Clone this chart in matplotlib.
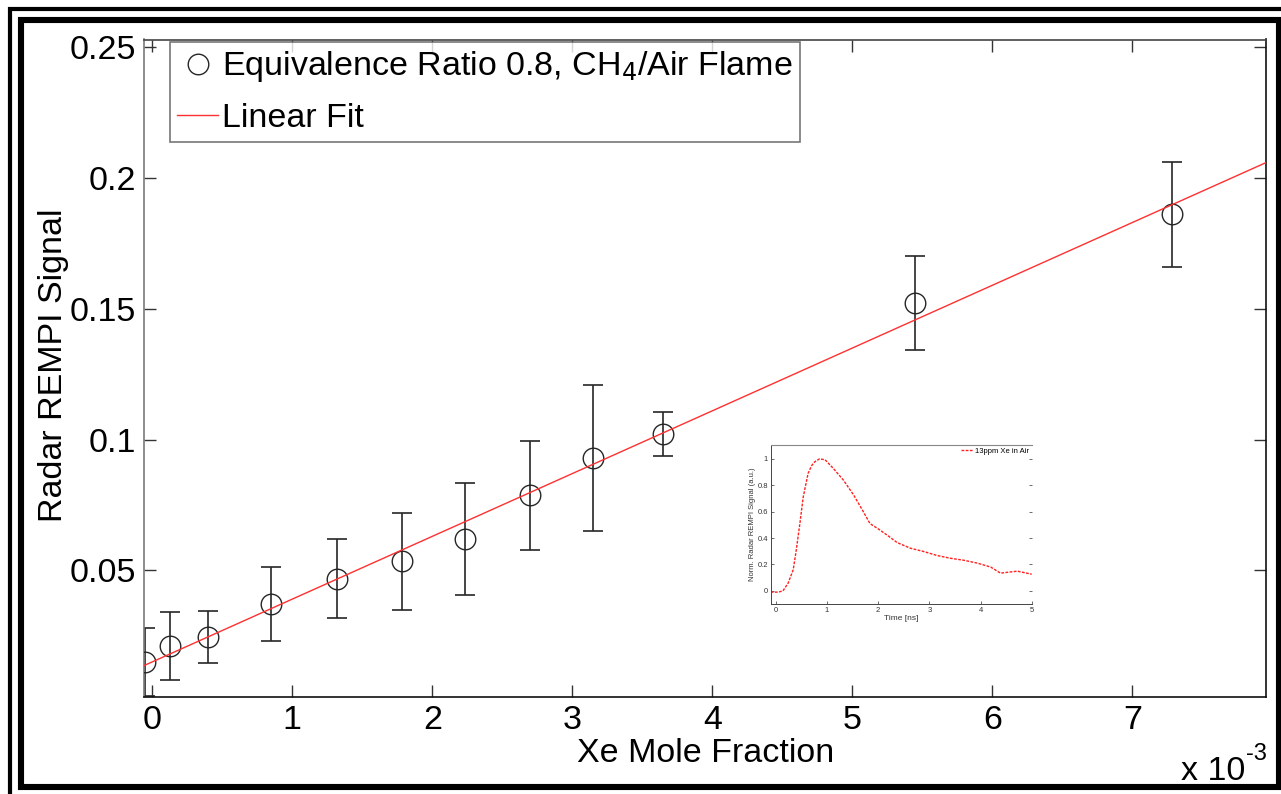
import numpy as np
import matplotlib
matplotlib.use("Agg")
import matplotlib.pyplot as plt
from matplotlib.patches import Rectangle
from matplotlib.ticker import FuncFormatter

plt.rcParams["font.family"] = ["Liberation Sans", "DejaVu Sans"]

# Xe mole fraction and REMPI signal with uncertainty
xe_fraction = np.array([-0.05, 0.126, 0.40, 0.846, 1.317, 1.781, 2.234,
                        2.698, 3.15, 3.65, 5.448, 7.281]) * 1e-3
rempi_signal = [0.0149, 0.0212, 0.0245, 0.0372, 0.0469, 0.0536, 0.0622,
                0.0787, 0.0929, 0.1021, 0.1523, 0.1861]
rempi_error = [0.0130, 0.0129, 0.0100, 0.0141, 0.0150, 0.0185, 0.0214,
               0.0208, 0.0280, 0.0083, 0.0179, 0.0200]

# linear fit: signal = slope * fraction + intercept
fit_slope = 23.97
fit_intercept = 0.0151

x_ticks = [0, 1, 2, 3, 4, 5, 6, 7]
y_ticks = [0.05, 0.10, 0.15, 0.20, 0.25]
y_tick_labels = ["0.05", "0.1", "0.15", "0.2", "0.25"]

# normalised temporal REMPI trace, 13 ppm Xe in air
time_ns = [-0.10, 0.05, 0.14, 0.24, 0.34, 0.40, 0.47, 0.535, 0.63, 0.70,
           0.765, 0.85, 0.96, 1.12, 1.32, 1.52, 1.71, 1.84, 2.0, 2.17,
           2.37, 2.63, 2.89, 3.15, 3.41, 3.67, 3.94, 4.2, 4.39, 4.52,
           4.72, 5.0]
trace = [-0.01, -0.01, 0.0, 0.058, 0.16, 0.31, 0.51, 0.71, 0.89, 0.95,
         0.98, 1.0, 0.995, 0.93, 0.84, 0.727, 0.60, 0.51, 0.47, 0.424,
         0.366, 0.323, 0.298, 0.268, 0.247, 0.232, 0.21, 0.18, 0.134,
         0.14, 0.149, 0.126]

FS = 24.5
W, H = 1281, 794
fig = plt.figure(figsize=(W / 100, H / 100), dpi=100)
fig.patch.set_facecolor("white")


def px_rect(x0, y0, x1, y1):
    return (x0 / W, 1 - y1 / H, (x1 - x0) / W, (y1 - y0) / H)


# double frame around the figure
fig.patches.append(Rectangle((10 / W, 1 - 900 / H), 1400 / W, (900 - 9) / H,
                             transform=fig.transFigure, fill=False,
                             lw=3.0, ec="black", zorder=0))
fig.patches.append(Rectangle((21 / W, 1 - 786.5 / H), (1278.5 - 21) / W,
                             (786.5 - 19.7) / H, transform=fig.transFigure,
                             fill=False, lw=4.4, ec="black", zorder=0))

ax = fig.add_axes(px_rect(144.3, 39.5, 1266, 696.7))

ax.errorbar(xe_fraction, rempi_signal, yerr=rempi_error, fmt="none",
            ecolor="#262626", elinewidth=1.2, capsize=7.5, capthick=1.2,
            zorder=2)
ax.plot(xe_fraction, rempi_signal, "o", mfc="none", mec="#262626",
        ms=14.8, mew=1.0, zorder=3,
        label="Equivalence Ratio 0.8, CH$_4$/Air Flame")

x_lim = (-0.057e-3, 7.955e-3)
fit_x = np.array(x_lim)
ax.plot(fit_x, fit_slope * fit_x + fit_intercept, color="#ff3030", lw=1.0,
        zorder=4, label="Linear Fit")

ax.set_xlim(*x_lim)
ax.set_ylim(0.0018, 0.2528)
ax.set_xticks([t * 1e-3 for t in x_ticks])
ax.xaxis.set_major_formatter(FuncFormatter(lambda v, p: f"{v * 1e3:.0f}"))
ax.set_yticks(y_ticks)
ax.set_yticklabels(y_tick_labels)
ax.tick_params(direction="in", length=8.6, width=1.0, top=True, right=True,
               labelsize=FS, colors="#333333", labelcolor="black")
ax.tick_params(axis="y", pad=6)
ax.tick_params(axis="x", pad=6)
for side, col in [("left", "#7a7a7a"), ("bottom", "#111111"),
                  ("top", "#444444"), ("right", "#111111")]:
    ax.spines[side].set_color(col)
    ax.spines[side].set_linewidth(1.2)

ax.set_xlabel("Xe Mole Fraction", fontsize=FS)
ax.set_ylabel("Radar REMPI Signal", fontsize=FS)
ax.xaxis.label.set_va("center")
ax.xaxis.set_label_coords(0.5, -0.0865)
ax.yaxis.set_label_coords(-0.067, 0.505)

# axis multiplier
fig.text(1245 / W, 1 - 780 / H, "x 10", fontsize=FS, ha="right",
         va="baseline")
fig.text(1246 / W, 1 - 760 / H, "-3", fontsize=17, ha="left",
         va="baseline")

leg = ax.legend(loc="upper left", bbox_to_anchor=(0.0229, 0.9962),
                borderaxespad=0, fontsize=FS, frameon=True, fancybox=False,
                edgecolor="#555555", handlelength=1.2, handletextpad=0.1,
                borderpad=0.22, labelspacing=0.55, numpoints=1)
leg.get_frame().set_linewidth(1.2)

# inset: temporal profile of the REMPI signal
ins = fig.add_axes(px_rect(770.7, 445, 1031.7, 604))
ins.plot(time_ns, trace, color="#ff2020", lw=1.0, ls=(0, (2, 1)),
         label="13ppm Xe in Air")
ins.set_xlim(-0.1, 5)
ins.set_ylim(-0.1, 1.106)
ins.set_xticks([0, 1, 2, 3, 4, 5])
ins.set_yticks([0, 0.2, 0.4, 0.6, 0.8, 1.0])
ins.set_yticklabels(["0", "0.2", "0.4", "0.6", "0.8", "1"])
ins.tick_params(direction="in", length=2.5, width=0.6, labelsize=5.5,
                pad=2, right=True, colors="#555555", labelcolor="#333333")
ins.spines["right"].set_visible(False)
ins.spines["top"].set_color("#888888")
for side in ("left", "bottom"):
    ins.spines[side].set_color("#444444")
    ins.spines[side].set_linewidth(0.7)
ins.set_xlabel("Time [ns]", fontsize=6, labelpad=1, color="#333333")
ins.set_ylabel("Norm. Radar REMPI Signal (a.u.)", fontsize=5.5, labelpad=1,
               color="#333333")
ins.legend(loc="upper right", fontsize=5.5, frameon=False, handlelength=1.6,
           handletextpad=0.3, borderaxespad=0.2, borderpad=0.1)

fig.savefig("out.png", dpi=100, facecolor="white")
